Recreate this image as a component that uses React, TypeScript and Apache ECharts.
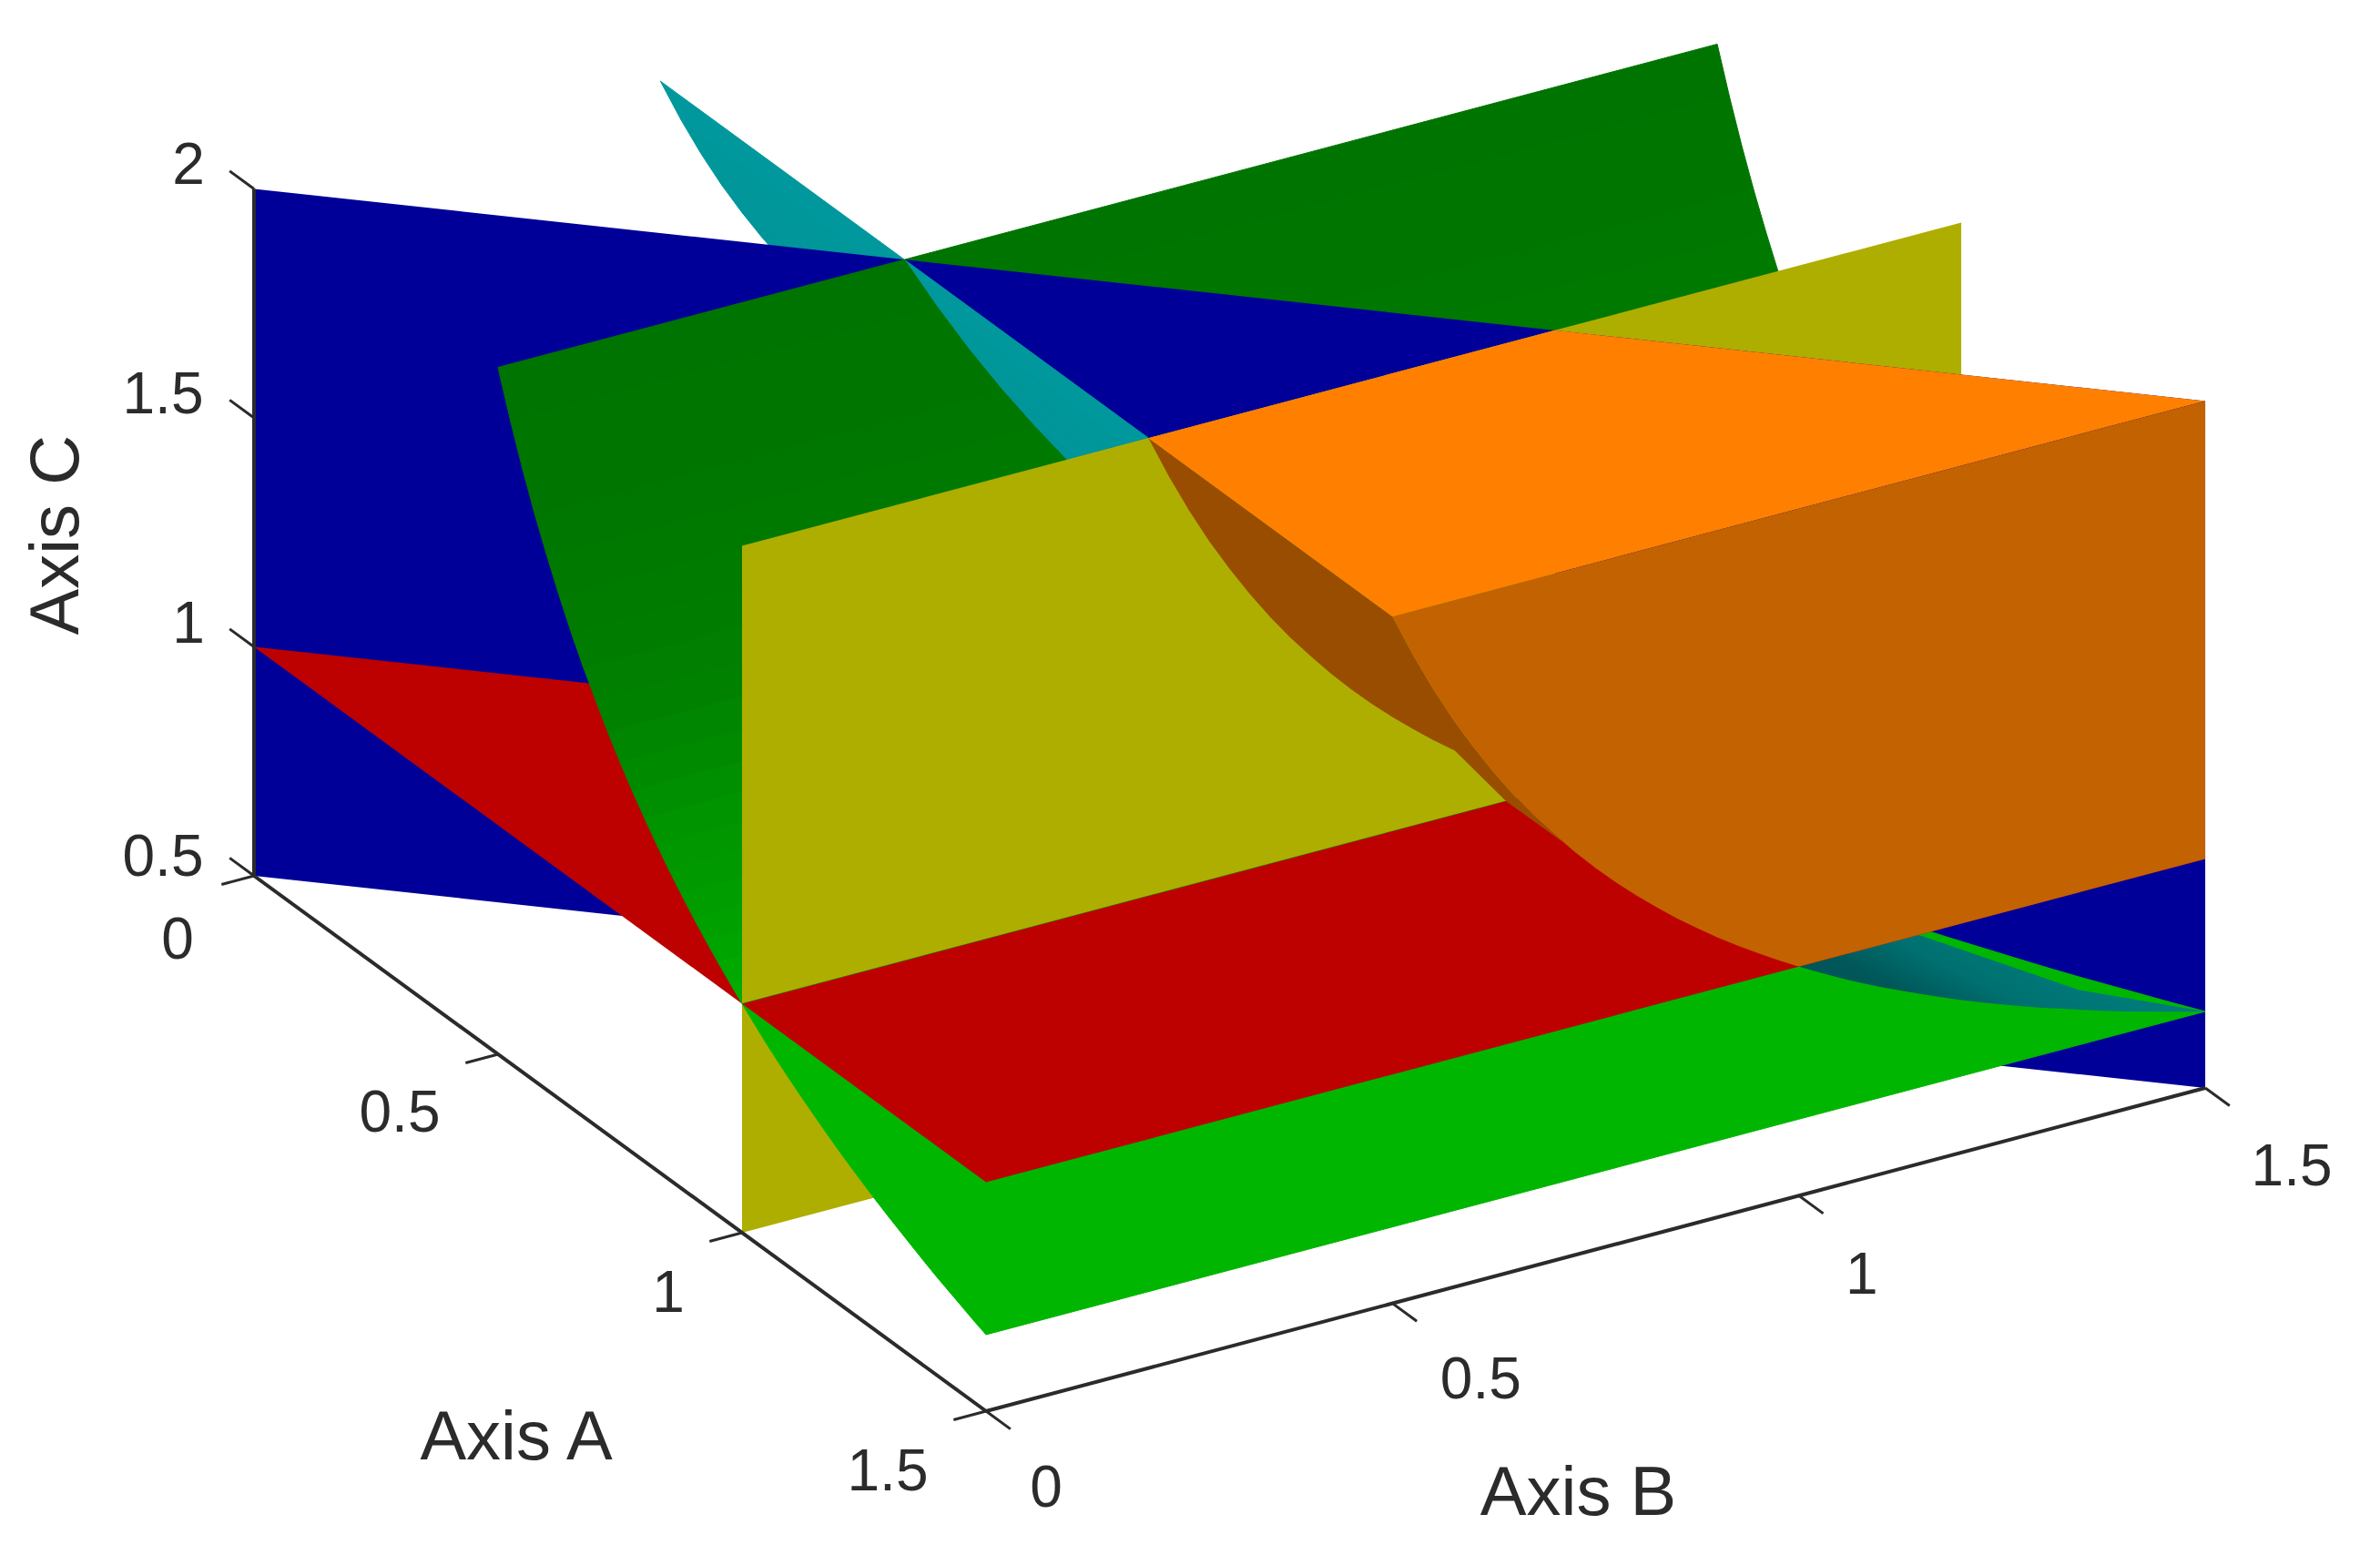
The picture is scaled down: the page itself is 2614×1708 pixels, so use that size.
import React, { useEffect, useRef } from "react";
import * as echarts from "echarts";

// Sampled reciprocal edge of the curved sheets: sheet coordinate and height on Axis C
const sheetU = [0.5, 0.525, 0.55, 0.575, 0.6, 0.625, 0.65, 0.675, 0.7, 0.725, 0.75, 0.775, 0.8, 0.825, 0.85, 0.875, 0.9, 0.925, 0.95, 0.975, 1, 1.025, 1.05, 1.075, 1.1, 1.125, 1.15, 1.175, 1.2, 1.225, 1.25, 1.275, 1.3, 1.325, 1.35, 1.375, 1.4, 1.425, 1.45, 1.475, 1.5];
const sheetC = [2, 1.905, 1.818, 1.739, 1.667, 1.6, 1.538, 1.481, 1.429, 1.379, 1.333, 1.29, 1.25, 1.212, 1.176, 1.143, 1.111, 1.081, 1.053, 1.026, 1, 0.976, 0.952, 0.93, 0.909, 0.889, 0.87, 0.851, 0.833, 0.816, 0.8, 0.784, 0.769, 0.755, 0.741, 0.727, 0.714, 0.702, 0.69, 0.678, 0.667];
// Green channel of each strip of the green sheet
const greenLevels = [116, 117, 118, 119, 121, 123, 125, 127, 130, 134, 138, 143, 148, 151, 154, 157, 160, 164, 168, 173, 180, 181, 182, 182, 182, 182, 182, 182, 182, 182, 182, 182, 182, 182, 182, 182, 182, 182, 182, 182];
// Level of each strip of the teal sheet
const tealLevels = [152, 151, 150, 150, 149, 149, 148, 148, 147, 147, 146, 146, 145, 145, 144, 144, 143, 143, 142, 142, 140, 140, 140, 140, 140, 140, 140, 140, 140, 140, 140, 140, 140, 140, 140, 140, 140, 140, 140, 140];

// Flat faces, as [Axis A, Axis B, Axis C] corners
const blueFace = [[0, 0, 0.5], [1.5, 1.5, 0.5], [1.5, 1.5, 2], [0, 0, 2]];
const yellowBack = [[1, 1, 0.5], [1, 1.5, 0.5], [1, 1.5, 2], [1, 1, 2]];
const yellowFront = [[1, 0, 0.5], [1, 1, 0.5], [1, 1, 2], [1, 0, 2]];
const redBack = [[0, 0, 1], [1, 0, 1], [1, 1, 1]];
const redFront = [[1, 0, 1], [1.5, 0, 1], [1.5, 1.5, 1], [1, 1, 1]];
const orangeTop = [[1, 0.5, 2], [1, 1, 2], [1.5, 1.5, 2], [1.5, 0.5, 2]];
const tealLowUpper = [[1.442, 1.38, 0.725], [1.305, 1.27, 0.787], [1.25, 1.1, 0.909]];
const brownLower = [[1, 0.877, 1.14], [1, 0.94, 1], [1.5, 0.71, 1.408]];

const axisCTicks = [0.5, 1, 1.5, 2];
const axisATicks = [0, 0.5, 1, 1.5];
const axisBTicks = [0, 0.5, 1, 1.5];
const tickText = (v: number) => String(v);

const BLUE = "#000099", RED = "#bd0000", YELLOW = "#aeae00", ORANGE = "#ff8000", ORANGE_DARK = "#c26200", BROWN = "#994d00";
const INK = "#2b2b2b";

type P3 = number[];
// Fixed view of the 3D box onto the hidden 2D axes
const project = (p: P3): number[] => [
  279 + 536 * p[0] + 892.7 * p[1],
  962 + 392 * p[0] - 236.7 * p[1] - 503 * (p[2] - 0.5),
];

type Mark =
  | { kind: "poly"; pts: P3[]; fill: any; seam?: boolean }
  | { kind: "line"; a: P3; b: P3; w: number }
  | { kind: "text"; at: P3; dx: number; dy: number; text: string; size: number; rot?: number };

function buildMarks(): Mark[] {
  const m: Mark[] = [];
  const n = sheetU.length - 1;
  const teal = (i: number) => `rgb(0,${tealLevels[i]},${tealLevels[i] + 4})`;
  const green = (i: number) => `rgb(0,${greenLevels[i]},0)`;
  const U = sheetU, C = sheetC;

  for (let i = 0; i < n; i++)
    m.push({ kind: "poly", seam: true, fill: teal(i), pts: [[0, U[i], C[i]], [U[i], U[i], C[i]], [U[i + 1], U[i + 1], C[i + 1]], [0, U[i + 1], C[i + 1]]] });
  for (let i = 0; i < n; i++)
    m.push({ kind: "poly", seam: true, fill: green(i), pts: [[U[i], U[i], C[i]], [U[i], 1.5, C[i]], [U[i + 1], 1.5, C[i + 1]], [U[i + 1], U[i + 1], C[i + 1]]] });
  m.push({ kind: "poly", fill: YELLOW, pts: yellowBack });
  m.push({ kind: "poly", fill: BLUE, pts: blueFace });
  m.push({ kind: "poly", fill: RED, pts: redBack });
  for (let i = 0; i < n; i++) {
    if (U[i] >= 1) continue;
    m.push({ kind: "poly", seam: true, fill: teal(i), pts: [[U[i], U[i], C[i]], [1, U[i], C[i]], [1, U[i + 1], C[i + 1]], [U[i + 1], U[i + 1], C[i + 1]]] });
    m.push({ kind: "poly", seam: true, fill: green(i), pts: [[U[i], 0, C[i]], [U[i], U[i], C[i]], [U[i + 1], U[i + 1], C[i + 1]], [U[i + 1], 0, C[i + 1]]] });
  }
  m.push({ kind: "poly", fill: YELLOW, pts: yellowFront });
  for (let i = 0; i < n; i++) {
    if (U[i] < 1) continue;
    m.push({ kind: "poly", seam: true, fill: green(i), pts: [[U[i], 0, C[i]], [U[i], U[i], C[i]], [U[i + 1], U[i + 1], C[i + 1]], [U[i + 1], 0, C[i + 1]]] });
  }
  // low part of the teal sheet, in front of blue
  const low: P3[] = [];
  for (let i = 0; i <= n; i++) if (U[i] >= 1) low.push([1.5, U[i], C[i]]);
  m.push({
    kind: "poly",
    fill: {
      type: "linear", x: 0, y: 1, x2: 1, y2: 0.5,
      colorStops: [
        { offset: 0, color: "rgb(0,85,90)" },
        { offset: 0.32, color: "rgb(0,86,88)" },
        { offset: 0.5, color: "rgb(0,112,112)" },
        { offset: 0.7, color: "rgb(0,122,122)" },
        { offset: 1, color: "rgb(0,128,125)" },
      ],
    },
    pts: low.concat(tealLowUpper),
  });
  m.push({ kind: "poly", fill: RED, pts: redFront });
  // sliver of the teal sheet inside the orange block
  const brown: P3[] = [];
  for (let i = 0; i <= n; i++) if (U[i] <= 0.85) brown.push([1, U[i], C[i]]);
  brown.push(...brownLower);
  for (let i = n; i >= 0; i--) if (U[i] <= 0.7) brown.push([1.5, U[i], C[i]]);
  m.push({ kind: "poly", fill: BROWN, pts: brown });
  m.push({ kind: "poly", fill: ORANGE, pts: orangeTop });
  const front: P3[] = [[1.5, 1.5, 2], [1.5, 1.5, 1]];
  for (let i = n; i >= 0; i--) if (U[i] <= 1) front.push([1.5, U[i], C[i]]);
  m.push({ kind: "poly", fill: ORANGE_DARK, pts: front });

  // box rulers and ticks
  m.push({ kind: "line", a: [0, 0, 0.5], b: [0, 0, 2], w: 4 });
  m.push({ kind: "line", a: [0, 0, 0.5], b: [1.5, 0, 0.5], w: 4 });
  m.push({ kind: "line", a: [1.5, 0, 0.5], b: [1.5, 1.5, 0.5], w: 4 });
  axisCTicks.forEach((v) => m.push({ kind: "line", a: [0, 0, v], b: [-0.05, 0, v], w: 3 }));
  axisATicks.forEach((v) => m.push({ kind: "line", a: [v, 0, 0.5], b: [v, -0.04, 0.5], w: 3 }));
  axisBTicks.forEach((v) => m.push({ kind: "line", a: [1.5, v, 0.5], b: [1.55, v, 0.5], w: 3 }));

  // tick labels, offset from their tick's root
  const cOffsets = [[-100, -22], [-72, -27], [-100, -27], [-72, -28]];
  const aOffsets = [[-84, 69], [-108, 63], [-81, 65], [-108, 65]];
  const bOffsets = [[66, 83], [97, 82], [69, 86], [95, 85]];
  axisCTicks.forEach((v, i) => m.push({ kind: "text", at: [0, 0, v], dx: cOffsets[i][0], dy: cOffsets[i][1], text: tickText(v), size: 64 }));
  axisATicks.forEach((v, i) => m.push({ kind: "text", at: [v, 0, 0.5], dx: aOffsets[i][0], dy: aOffsets[i][1], text: tickText(v), size: 64 }));
  axisBTicks.forEach((v, i) => m.push({ kind: "text", at: [1.5, v, 0.5], dx: bOffsets[i][0], dy: bOffsets[i][1], text: tickText(v), size: 64 }));

  // axis titles
  m.push({ kind: "text", at: [0.75, 0, 0.5], dx: -114, dy: 320, text: "Axis A", size: 76 });
  m.push({ kind: "text", at: [1.5, 0.75, 0.5], dx: -19, dy: 265, text: "Axis B", size: 76 });
  m.push({ kind: "text", at: [0, 0, 1.25], dx: -220, dy: 3, text: "Axis C", size: 76, rot: Math.PI / 2 });
  return m;
}

export default function App() {
  const ref = useRef<HTMLDivElement>(null);
  useEffect(() => {
    if (!ref.current) return;
    const chart = echarts.init(ref.current, undefined, { renderer: "svg" });
    const marks = buildMarks();
    chart.setOption({
      animation: false,
      backgroundColor: "#ffffff",
      grid: { left: 0, right: 0, top: 0, bottom: 0 },
      xAxis: { type: "value", min: 0, max: 2614, show: false },
      yAxis: { type: "value", min: 0, max: 1708, inverse: true, show: false },
      series: [
        {
          type: "custom",
          coordinateSystem: "cartesian2d",
          silent: true,
          clip: false,
          data: marks.map((_, i) => [i]),
          encode: { x: 0, y: 0 },
          renderItem: (_p: any, api: any) => {
            const mk = marks[api.value(0)];
            const at = (p: P3) => api.coord(project(p));
            if (mk.kind === "poly") {
              return {
                type: "polygon",
                shape: { points: mk.pts.map(at) },
                style: { fill: mk.fill, stroke: mk.seam ? mk.fill : "none", lineWidth: mk.seam ? 1 : 0 },
              };
            }
            if (mk.kind === "line") {
              const a = at(mk.a), b = at(mk.b);
              return { type: "line", shape: { x1: a[0], y1: a[1], x2: b[0], y2: b[1] }, style: { stroke: INK, lineWidth: mk.w, fill: "none" } };
            }
            const a = at(mk.at);
            return {
              type: "text",
              x: a[0] + mk.dx,
              y: a[1] + mk.dy,
              rotation: mk.rot || 0,
              style: { text: mk.text, fill: INK, font: `${mk.size}px "Liberation Sans", Arial, sans-serif`, align: "center", verticalAlign: "middle" },
            };
          },
        },
      ],
    });
    return () => chart.dispose();
  }, []);
  return <div ref={ref} style={{ position: "fixed", left: 0, top: 0, width: 2614, height: 1708, filter: "blur(0.7px)" }} />;
}
